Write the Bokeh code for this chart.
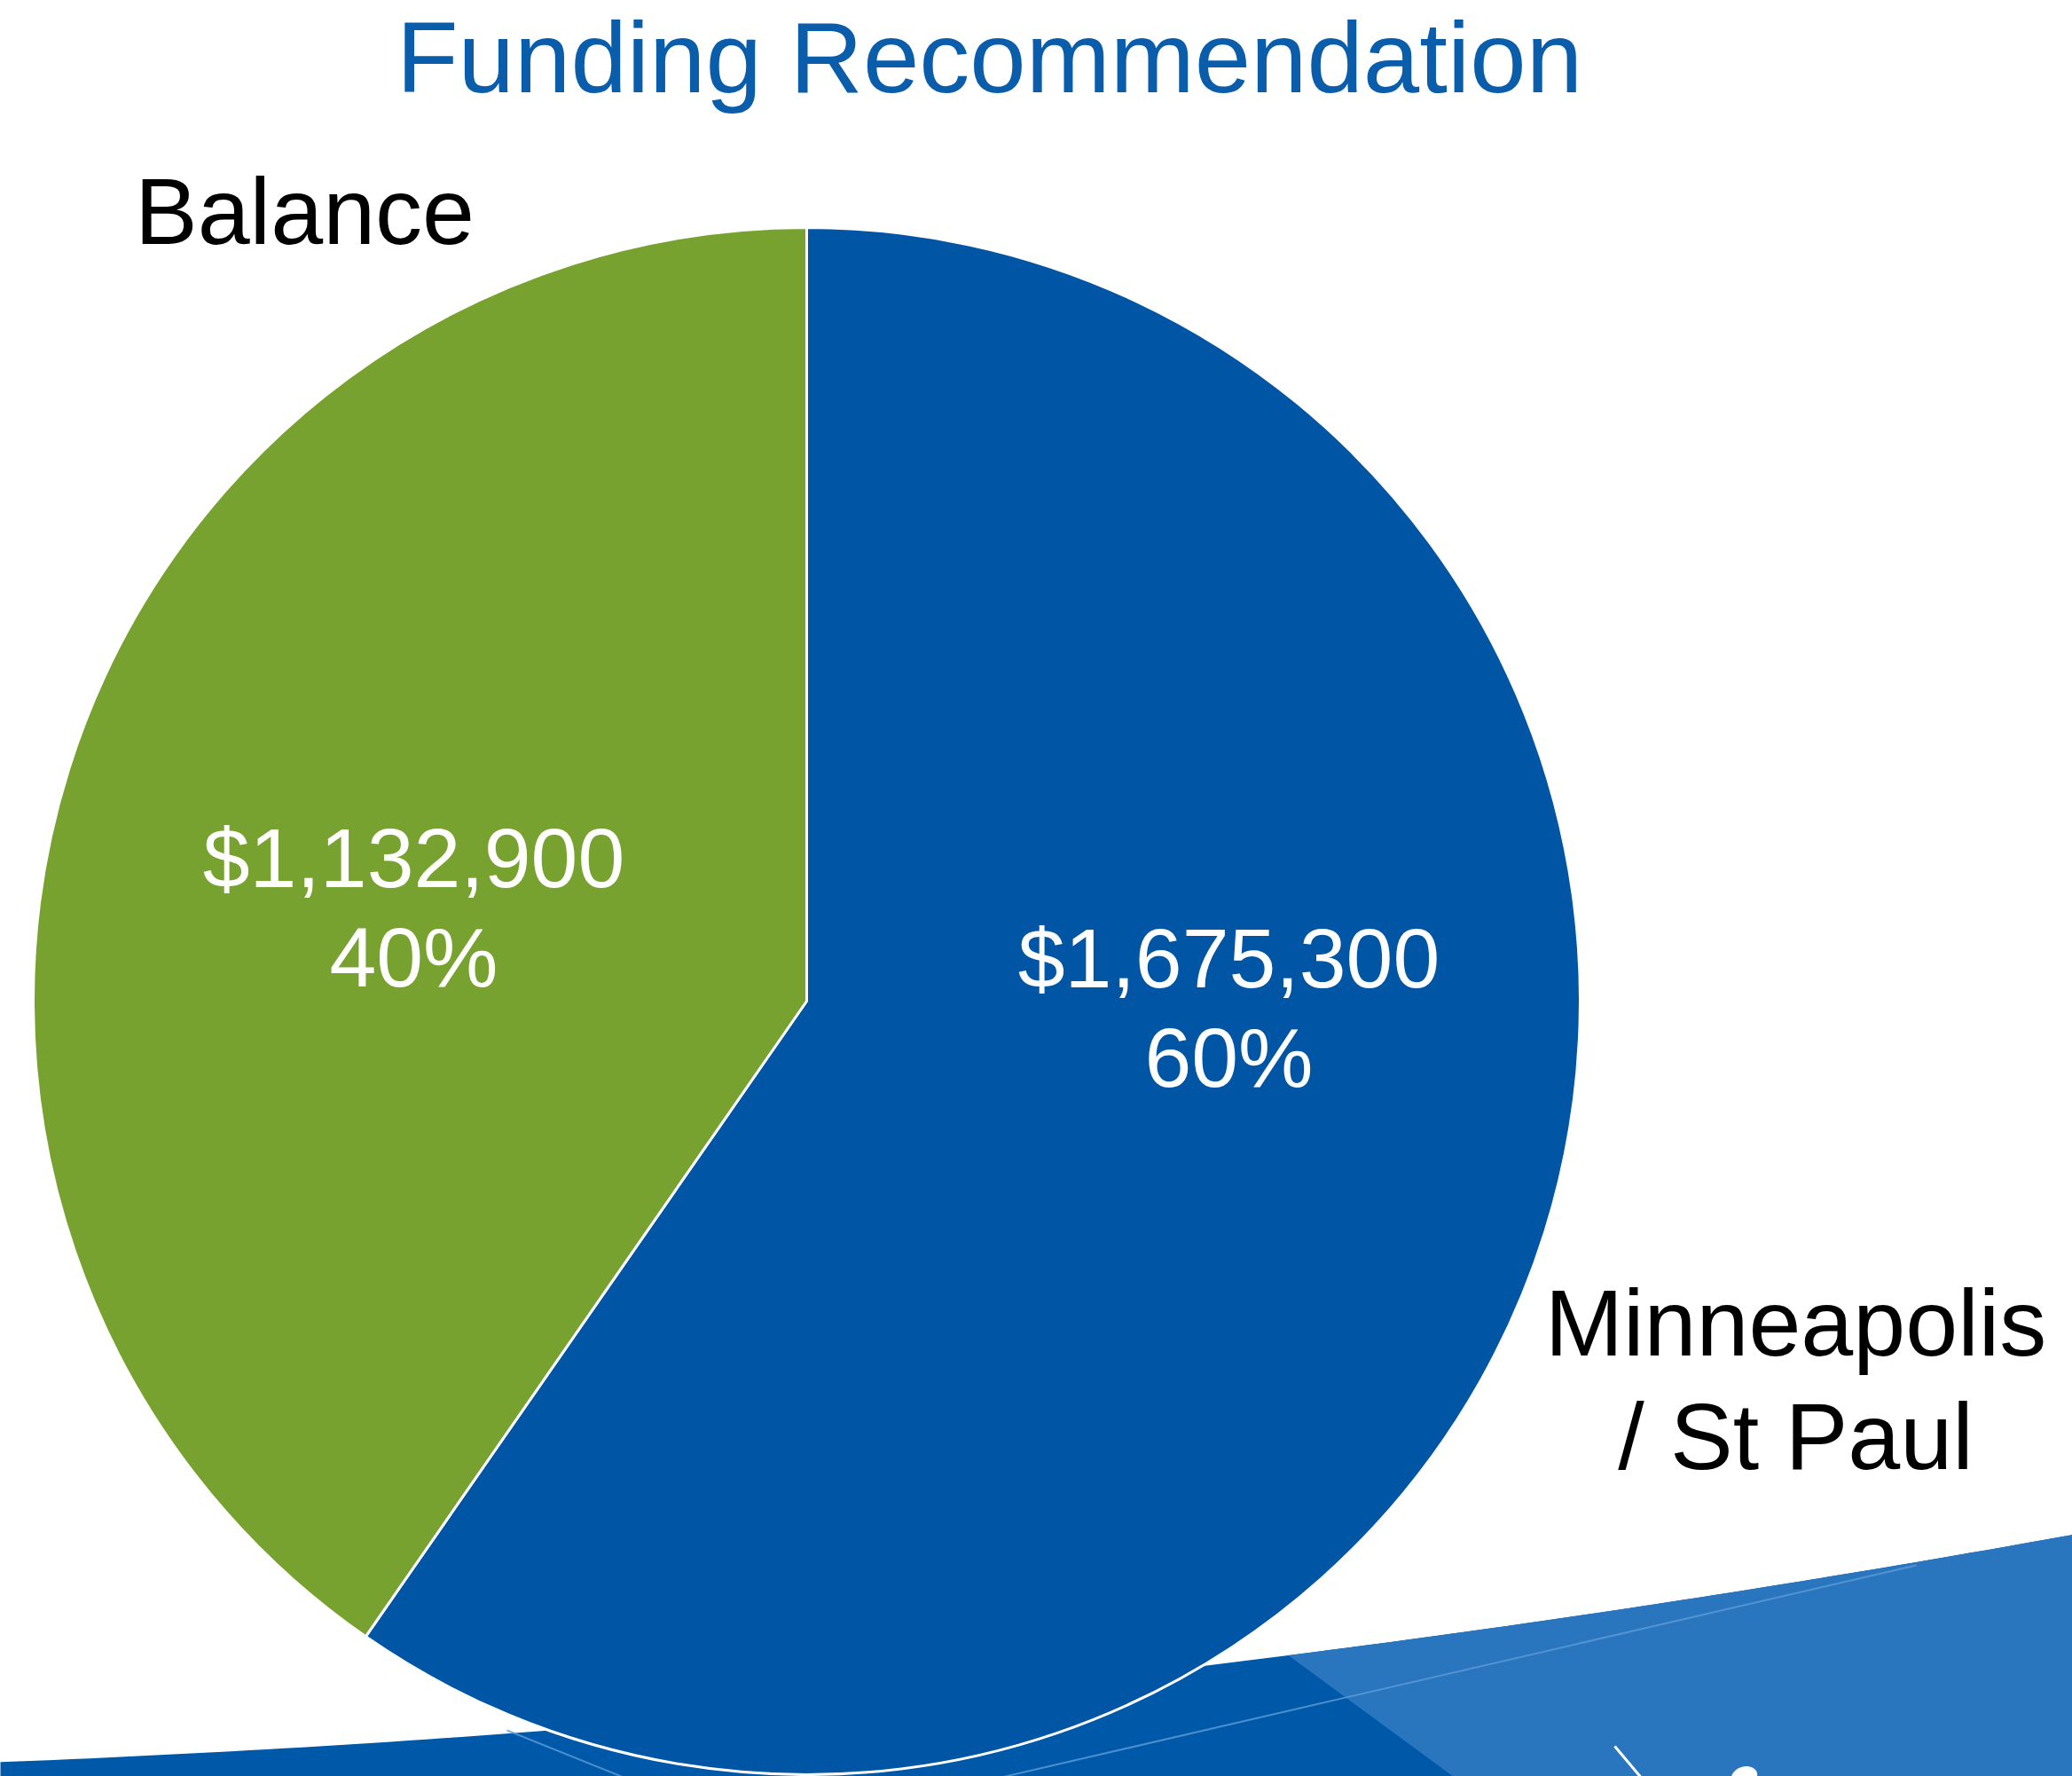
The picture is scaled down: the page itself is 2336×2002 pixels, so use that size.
import numpy as np
from bokeh.plotting import figure
from bokeh.models import Range1d
from bokeh.embed import file_html
from bokeh.resources import INLINE
from bokeh.core.properties import value

# ---------------- data ----------------
title = "Funding Recommendation"
categories = ["Minneapolis / St Paul", "Balance"]
category_lines = [["Minneapolis", "/ St Paul"], ["Balance"]]
amounts = [1675300, 1132900]
slice_colors = ["#0055A5", "#78A22F"]

# ---------------- layout ----------------
W, H = 2336, 2002
OFF = 0
BASE_FIX = 0.37   # em shift to put the alphabetic baseline where intended


def X(rx):
    return np.asarray(rx, dtype=float) - OFF


def Y(ry):
    return H + OFF - np.asarray(ry, dtype=float)


FONT = value("Liberation Sans")

p = figure(width=W, height=H, x_range=Range1d(0, W), y_range=Range1d(0, H),
           output_backend="svg", toolbar_location=None, min_border=0,
           x_axis_type=None, y_axis_type=None)
p.grid.visible = False
p.outline_line_color = None
p.background_fill_color = "white"
p.border_fill_color = "white"

# ---------------- background swoosh (decoration) ----------------
edge_x = np.array([0, 571, 1366, 1697, 1961, 2336])
edge_y = np.array([1988, 1950, 1873, 1840, 1793, 1727])
coef = np.polyfit(edge_x, edge_y, 2)
cx_s = np.linspace(-20, 2360, 120)
cy_s = np.polyval(coef, cx_s)
band_x = np.concatenate([cx_s, [2360, -20]])
band_y = np.concatenate([cy_s, [2040, 2040]])
p.patch(X(band_x), Y(band_y), fill_color="#0059A8", line_color=None)

lx0, ly0, lx1, ly1 = 1452, 1868, 1637, 2002
slope = (lx1 - lx0) / (ly1 - ly0)
sx = np.linspace(lx0, 2360, 60)
sy = np.polyval(coef, sx)
light_x = np.concatenate([sx, [2360, lx0 + (2040 - ly0) * slope]])
light_y = np.concatenate([sy, [2040, 2040]])
p.patch(X(light_x), Y(light_y), fill_color="#2A76BE", line_color=None)

p.line(X([1120, 2160]), Y([2005, 1764]), line_color="#5C9BD8", line_width=2, line_alpha=0.8)
p.line(X([571, 720]), Y([1950, 2010]), line_color="#5C9BD8", line_width=2, line_alpha=0.8)
p.line(X([1820, 1852]), Y([1968, 2006]), line_color="white", line_width=3)
p.ellipse(X([1966]), Y([2002]), width=30, height=22, angle=0.3,
          fill_color="white", line_color=None)

# ---------------- pie ----------------
pie_cx, pie_cy, pie_r = X(909), Y(1128), 872
vals = np.array(amounts, dtype=float)
frac = vals / vals.sum()
cum = np.concatenate([[0], np.cumsum(frac)])
starts = np.pi / 2 - 2 * np.pi * cum[:-1]
ends = np.pi / 2 - 2 * np.pi * cum[1:]
p.wedge(x=[float(pie_cx)] * len(vals), y=[float(pie_cy)] * len(vals), radius=pie_r,
        start_angle=list(starts), end_angle=list(ends), direction="clock",
        fill_color=slice_colors, line_color="white", line_width=3)


def put_text(xs, ys, texts, size, color):
    fix = BASE_FIX * size
    p.text(x=X(xs), y=Y(ys) + fix, text=texts,
           text_align="center", text_baseline="alphabetic", text_font=FONT,
           text_font_size=value(f"{size}px"), text_color=color)


# ---------------- value labels ----------------
value_text = [f"${v:,}" for v in amounts]
pct_text = [f"{round(100 * f)}%" for f in frac]
label_offsets = [(476, -13), (-443, -126)]   # first-baseline offsets from pie centre (px, screen)
line_step = 112
for vt, pt, (dx, dy) in zip(value_text, pct_text, label_offsets):
    bx = 909 + dx
    by = 1128 + dy
    put_text([bx, bx], [by, by + line_step], [vt, pt], 95, "white")

# ---------------- category labels ----------------
cat_pos = [(2024, 1530), (343, 277)]
cat_step = 128
for lines, (bx, by) in zip(category_lines, cat_pos):
    ys = [by + i * cat_step for i in range(len(lines))]
    put_text([bx] * len(lines), ys, lines, 106, "black")

# ---------------- title ----------------
put_text([1115], [106], [title], 114, "#0A5DAA")

open("out.html", "w").write(file_html(p, INLINE))
